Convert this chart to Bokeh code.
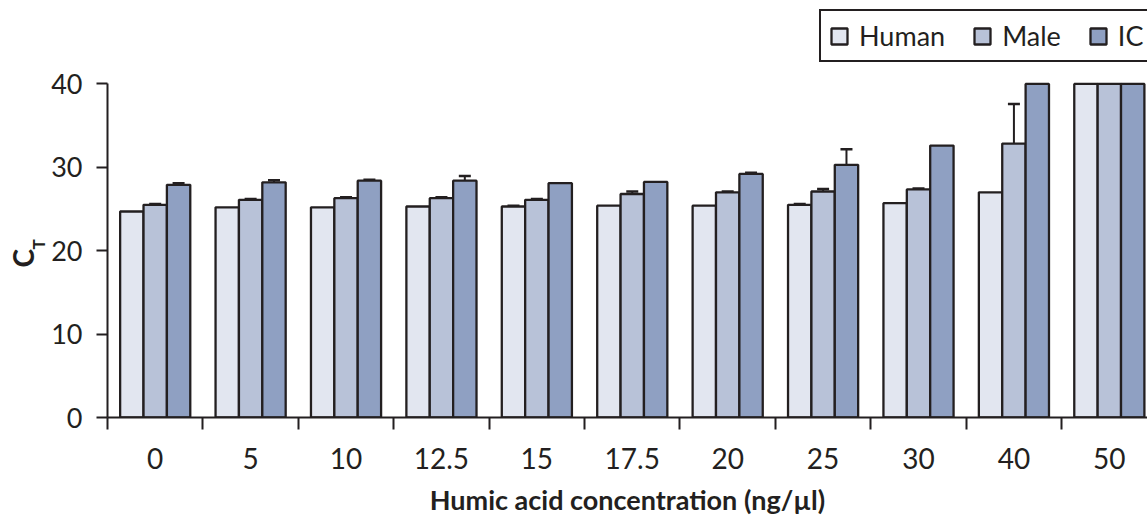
import numpy as np
from bokeh.plotting import figure
from bokeh.models import (ColumnDataSource, Range1d, FixedTicker, Whisker, TeeHead,
                          Legend, LegendItem, Title)
from bokeh.embed import file_html
from bokeh.resources import INLINE

# Humic acid concentration (ng/µl) for each group of bars
concentrations = ["0", "5", "10", "12.5", "15", "17.5", "20", "25", "30", "40", "50"]

# Mean C_T per assay
human = [24.7, 25.2, 25.2, 25.3, 25.3, 25.4, 25.4, 25.5, 25.7, 27.0, 40.0]
male = [25.5, 26.1, 26.3, 26.3, 26.1, 26.8, 27.0, 27.1, 27.35, 32.85, 40.0]
ic = [27.9, 28.2, 28.4, 28.4, 28.1, 28.25, 29.2, 30.3, 32.6, 40.0, 40.0]

# Standard deviation per assay
human_err = [0.0, 0.0, 0.0, 0.0, 0.1, 0.0, 0.0, 0.1, 0.0, 0.0, 0.0]
male_err = [0.1, 0.1, 0.1, 0.1, 0.1, 0.3, 0.1, 0.3, 0.1, 4.75, 0.0]
ic_err = [0.2, 0.25, 0.1, 0.55, 0.0, 0.0, 0.15, 1.85, 0.0, 0.0, 0.0]

series_names = ["Human", "Male", "IC"]
y_ticks = [0, 10, 20, 30, 40]

FONT = "Lato"
INK = "#231f20"
COLORS = ["#e2e6f0", "#b8c2d8", "#8fa0c2"]
BAR_W = 0.245

n = len(concentrations)
idx = np.arange(n)

# the frame runs up to the top edge so the legend can sit above the 40 line
p = figure(width=1147, height=518, output_backend="svg", toolbar_location=None,
           x_range=Range1d(-0.5, 10.40), y_range=Range1d(0, 50.0),
           min_border_left=107, min_border_right=0, min_border_top=0,
           min_border_bottom=101, background_fill_color="white",
           border_fill_color="white")
p.outline_line_color = None
p.xgrid.visible = False
p.ygrid.visible = False

legend_items = []
for k, (name, vals, errs, color) in enumerate(
        zip(series_names, [human, male, ic], [human_err, male_err, ic_err], COLORS)):
    xs = idx + (k - 1) * BAR_W
    src = ColumnDataSource(dict(x=xs, top=vals))
    r = p.vbar(x="x", top="top", width=BAR_W, source=src, fill_color=color,
               line_color=INK, line_width=2.3)
    legend_items.append(LegendItem(label=name, renderers=[r]))

    keep = [i for i, e in enumerate(errs) if e > 0]
    if keep:
        esrc = ColumnDataSource(dict(
            x=[xs[i] for i in keep],
            upper=[vals[i] + errs[i] for i in keep],
            lower=[vals[i] - errs[i] for i in keep]))
        p.add_layout(Whisker(base="x", upper="upper", lower="lower", source=esrc,
                             line_color=INK, line_width=2,
                             upper_head=TeeHead(size=12, line_color=INK, line_width=2.5),
                             lower_head=TeeHead(size=12, line_color=INK, line_width=2.5)))

# x axis: labels at group centres, ticks between groups
xa = p.xaxis[0]
xa.ticker = FixedTicker(ticks=list(idx), minor_ticks=[i - 0.5 for i in range(n + 1)])
xa.major_label_overrides = {int(i): c for i, c in enumerate(concentrations)}
xa.major_tick_out = 0
xa.major_tick_in = 0
xa.minor_tick_out = 12
xa.minor_tick_in = 0
xa.minor_tick_line_color = INK
xa.minor_tick_line_width = 2
xa.axis_line_color = INK
xa.axis_line_width = 2
xa.major_label_text_font = FONT
xa.major_label_text_font_size = "28px"
xa.major_label_text_color = INK
xa.major_label_standoff = 18
xa.axis_label = "Humic acid concentration (ng/µl)"
xa.axis_label_text_font = FONT
xa.axis_label_text_font_style = "bold"
xa.axis_label_text_font_size = "27px"
xa.axis_label_text_color = INK
xa.axis_label_standoff = 11

# y axis, limited to 0-40
ya = p.yaxis[0]
ya.ticker = FixedTicker(ticks=y_ticks)
ya.bounds = (0, 40)
ya.major_tick_out = 11
ya.major_tick_in = 0
ya.minor_tick_out = 0
ya.minor_tick_in = 0
ya.major_tick_line_color = INK
ya.major_tick_line_width = 2
ya.axis_line_color = INK
ya.axis_line_width = 2
ya.major_label_text_font = FONT
ya.major_label_text_font_size = "27px"
ya.major_label_text_color = INK
ya.major_label_standoff = 14

# y title "C" with a subscript "T": two stacked side titles
p.add_layout(Title(text="T", align="left", offset=168, standoff=0,
                   text_font=FONT, text_font_style="bold", text_font_size="17px",
                   text_color=INK), "left")
p.add_layout(Title(text="C", align="left", offset=150, standoff=-28,
                   text_font=FONT, text_font_style="bold", text_font_size="28px",
                   text_color=INK), "left")

legend = Legend(items=legend_items, orientation="horizontal", location=(712, 355),
                border_line_color=INK, border_line_width=2, border_line_alpha=1,
                background_fill_color="white", background_fill_alpha=1,
                padding=8, spacing=27, margin=0, glyph_width=20, glyph_height=20,
                label_standoff=10, label_height=20, label_text_font=FONT,
                label_text_font_size="27px", label_text_color=INK)
p.add_layout(legend)

open("out.html", "w").write(file_html(p, INLINE))
